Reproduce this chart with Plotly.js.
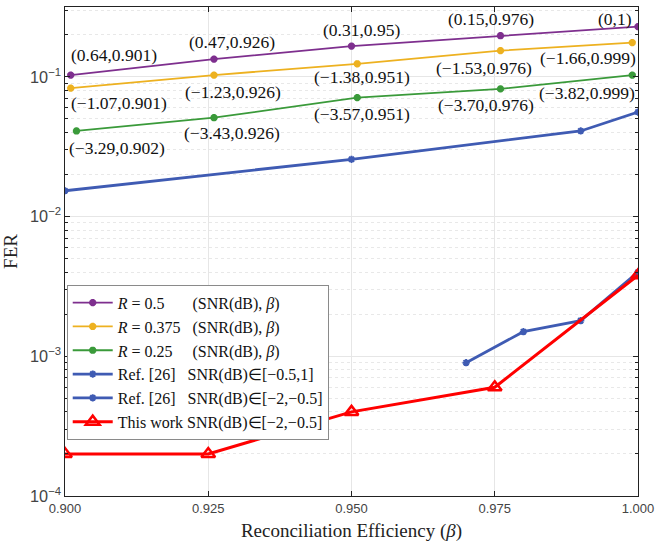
<!DOCTYPE html>
<html>
<head>
<meta charset="utf-8">
<script src="https://cdn.plot.ly/plotly-3.0.1.min.js"></script>
<style>html,body{margin:0;padding:0;background:#fff;}#chart{width:669px;height:544px;}</style>
</head>
<body>
<div id="chart"></div>
<script>
// ---- data ----
const betaR50  = [0.901, 0.926, 0.950, 0.976, 1.000];
const ferR50   = [0.103, 0.134, 0.166, 0.197, 0.229];
const labR50   = ['(0.64,0.901)', '(0.47,0.926)', '(0.31,0.95)', '(0.15,0.976)', '(0,1)'];

const betaR375 = [0.901, 0.926, 0.951, 0.976, 0.999];
const ferR375  = [0.083, 0.103, 0.124, 0.154, 0.176];
const labR375  = ['(−1.07,0.901)', '(−1.23,0.926)', '(−1.38,0.951)', '(−1.53,0.976)', '(−1.66,0.999)'];

const betaR25  = [0.902, 0.926, 0.951, 0.976, 0.999];
const ferR25   = [0.041, 0.051, 0.071, 0.082, 0.103];
const labR25   = ['(−3.29,0.902)', '(−3.43,0.926)', '(−3.57,0.951)', '(−3.70,0.976)', '(−3.82,0.999)'];

const betaRef1 = [0.90, 0.95, 0.99, 1.00];
const ferRef1  = [0.0153, 0.0257, 0.041, 0.056];

const betaRef2 = [0.97, 0.98, 0.99, 1.00];
const ferRef2  = [0.0009, 0.0015, 0.0018, 0.0040];

const betaThis = [0.900, 0.925, 0.950, 0.975, 1.000];
const ferThis  = [0.0002, 0.0002, 0.0004, 0.0006, 0.0038];

const xTicks = [0.900, 0.925, 0.950, 0.975, 1.000];

// ---- label pixel offsets (layout) ----
const offR50  = [[43, 20], [18, 17], [10, 16], [-9, 17], [-23, 8]];
const offR375 = [[48, -15], [19, -17], [5, -13], [-16, -17], [-44, -15]];
const offR25  = [[41, -17], [18, -15], [5, -16], [-14, -16], [-45, -18]];

const NB = '\u00A0';
const sp = n => NB.repeat(n);

const cPurple = '#7E2F8E', cYellow = '#EDB120', cGreen = '#3A9A3A', cBlue = '#3F5BB3', cRed = '#FF0000';

function starTrace(x, y, color, name) {
  return {x, y, name, type: 'scatter', mode: 'lines+markers',
    line: {color, width: 1.8},
    marker: {symbol: 'asterisk-open', size: 6, color, line: {color, width: 2.5}}};
}

const traces = [
  starTrace(betaR50, ferR50, cPurple, '<i>R</i> = 0.5' + sp(7) + '(SNR(dB), <i>β</i>)'),
  starTrace(betaR375, ferR375, cYellow, '<i>R</i> = 0.375' + sp(3) + '(SNR(dB), <i>β</i>)'),
  starTrace(betaR25, ferR25, cGreen, '<i>R</i> = 0.25' + sp(5) + '(SNR(dB), <i>β</i>)'),
  {x: betaRef1, y: ferRef1, name: 'Ref. [26]' + sp(3) + 'SNR(dB)∈[−0.5,1]', type: 'scatter', mode: 'lines+markers',
    line: {color: cBlue, width: 2.8}, marker: {symbol: 'asterisk-open', size: 6, color: cBlue, line: {color: cBlue, width: 2}}},
  {x: betaRef2, y: ferRef2, name: 'Ref. [26]' + sp(3) + 'SNR(dB)∈[−2,−0.5]', type: 'scatter', mode: 'lines+markers',
    line: {color: cBlue, width: 2.8}, marker: {symbol: 'asterisk-open', size: 6, color: cBlue, line: {color: cBlue, width: 2}}},
  {x: betaThis, y: ferThis, name: 'This work SNR(dB)∈[−2,−0.5]', type: 'scatter', mode: 'lines+markers',
    line: {color: cRed, width: 3}, marker: {symbol: 'triangle-up-open', size: 12, color: cRed, line: {color: cRed, width: 2.5}}}
];

const annotations = [];
function addLabels(xs, ys, labs, offs) {
  labs.forEach((t, i) => annotations.push({
    x: xs[i], y: Math.log10(ys[i]), xref: 'x', yref: 'y', text: t, showarrow: false,
    xanchor: 'center', yanchor: 'middle', xshift: offs[i][0], yshift: offs[i][1],
    font: {family: 'Liberation Serif, Times New Roman, serif', size: 17.5, color: '#111'}
  }));
}
addLabels(betaR50, ferR50, labR50, offR50);
addLabels(betaR375, ferR375, labR375, offR375);
addLabels(betaR25, ferR25, labR25, offR25);

const layout = {
  width: 669, height: 544,
  margin: {l: 65, r: 31, t: 7, b: 48},
  paper_bgcolor: '#fff', plot_bgcolor: '#fff',
  showlegend: true,
  legend: {x: 0.003, y: 0.432, xanchor: 'left', yanchor: 'top',
    bgcolor: '#fff', bordercolor: '#8a8a8a', borderwidth: 1,
    font: {family: 'Liberation Serif, Times New Roman, serif', size: 16, color: '#111'},
    tracegroupgap: 0, itemwidth: 40},
  xaxis: {
    range: [0.9, 1.0], tickvals: xTicks, tickformat: '.3f',
    ticks: 'inside', ticklen: 5, tickcolor: '#222',
    showline: true, linecolor: '#222', linewidth: 1.3, mirror: 'ticks',
    showgrid: true, gridcolor: '#e6e6e6', gridwidth: 1, zeroline: false,
    tickfont: {family: 'Liberation Sans, Arial, sans-serif', size: 13, color: '#444'},
    title: {text: 'Reconciliation Efficiency (<i>β</i>)', standoff: 8,
      font: {family: 'Liberation Serif, Times New Roman, serif', size: 19, color: '#222'}}
  },
  yaxis: {
    type: 'log', range: [-4, -0.5], dtick: 1, exponentformat: 'power',
    ticks: 'inside', ticklen: 5, tickcolor: '#222',
    showline: true, linecolor: '#222', linewidth: 1.3, mirror: 'ticks',
    showgrid: true, gridcolor: '#e6e6e6', gridwidth: 1, zeroline: false,
    minor: {dtick: 'D1', ticks: 'inside', ticklen: 3, tickcolor: '#222', showgrid: true, gridcolor: '#e8e8e8', griddash: 'dot'},
    tickfont: {family: 'Liberation Sans, Arial, sans-serif', size: 13, color: '#444'},
    title: {text: 'FER', standoff: 12,
      font: {family: 'Liberation Serif, Times New Roman, serif', size: 19, color: '#222'}}
  },
  annotations
};

Plotly.newPlot('chart', traces, layout, {displayModeBar: false, staticPlot: true});
</script>
</body>
</html>
